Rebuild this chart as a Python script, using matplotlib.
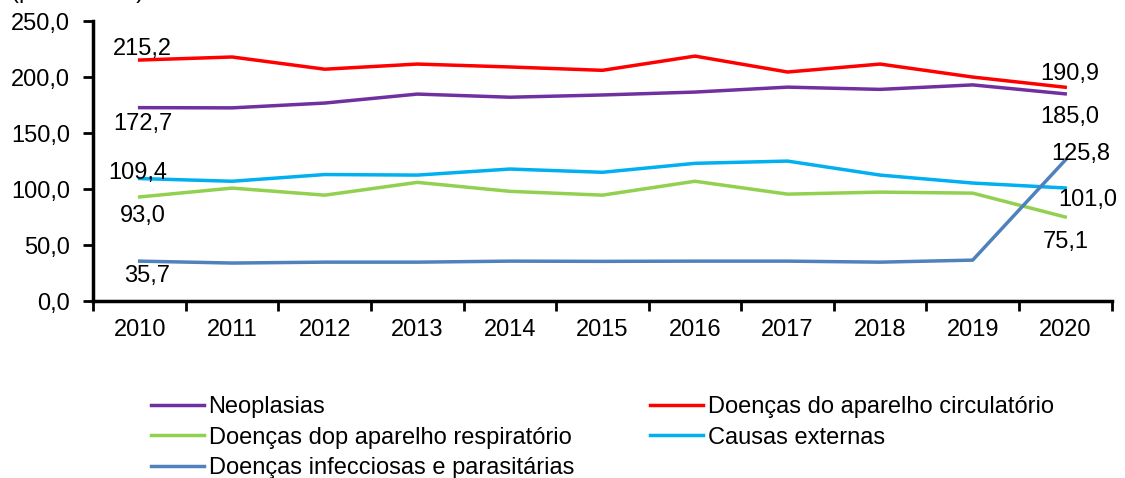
import matplotlib.pyplot as plt
from matplotlib.ticker import FixedLocator, FuncFormatter

plt.rcParams['font.family'] = ['Liberation Sans', 'DejaVu Sans']

anos = [2010, 2011, 2012, 2013, 2014, 2015, 2016, 2017, 2018, 2019, 2020]

neoplasias = [172.7, 172.5, 176.8, 184.8, 182.0, 184.0, 186.6, 191.0, 189.0, 193.0, 185.0]
circulatorio = [215.2, 217.9, 207.0, 211.6, 209.0, 206.0, 218.7, 204.5, 211.6, 200.0, 190.9]
respiratorio = [93.0, 100.9, 94.6, 106.0, 98.0, 94.6, 107.0, 95.5, 97.3, 96.4, 75.1]
externas = [109.4, 107.0, 113.0, 112.5, 117.9, 115.0, 123.0, 125.0, 112.5, 105.4, 101.0]
infecciosas = [35.7, 34.0, 34.8, 34.8, 35.7, 35.5, 35.7, 35.7, 34.8, 36.6, 125.8]

series = {
    "neo": ("Neoplasias", neoplasias, "#7030a0"),
    "circ": ("Doenças do aparelho circulatório", circulatorio, "#ff0000"),
    "resp": ("Doenças dop aparelho respiratório", respiratorio, "#92d050"),
    "ext": ("Causas externas", externas, "#00b0f0"),
    "inf": ("Doenças infecciosas e parasitárias", infecciosas, "#4f81bd"),
}


def fmt(v):
    return f"{v:.1f}".replace('.', ',')


fig = plt.figure(figsize=(11.25, 4.78), dpi=100)
ax = fig.add_axes([0.083, 0.370, 0.905, 0.586])

x = list(range(len(anos)))
lines = {}
for key, (nome, vals, cor) in series.items():
    ln, = ax.plot(x, vals, color=cor, linewidth=2.5, label=nome)
    lines[key] = ln

ax.set_xlim(-0.5, len(anos) - 0.5)
ax.set_ylim(0, 250)
ax.set_yticks([0, 50, 100, 150, 200, 250])
ax.yaxis.set_major_formatter(FuncFormatter(lambda v, p: fmt(v)))
ax.set_xticks(x)
ax.set_xticklabels([str(a) for a in anos])
ax.xaxis.set_minor_locator(FixedLocator([i - 0.5 for i in range(len(anos) + 1)]))
ax.tick_params(axis='x', which='major', length=0, pad=13, labelsize=17)
ax.tick_params(axis='x', which='minor', length=7, width=2, direction='out')
ax.tick_params(axis='y', length=7, width=2, direction='out', labelsize=17, pad=10)

for s in ['top', 'right']:
    ax.spines[s].set_visible(False)
for s in ['left', 'bottom']:
    ax.spines[s].set_linewidth(2.5)

fs = 17
# (serie, indice, dx, dy) em pixels, rótulo pela linha de base
rotulos = [
    ("circ", 0, 3, 5), ("neo", 0, 3, -22), ("ext", 0, -2, 0),
    ("resp", 0, 3, -25), ("inf", 0, 7, -21),
    ("circ", -1, 5, 7), ("neo", -1, 5, -29), ("inf", -1, 16, 0),
    ("ext", -1, 23, -18), ("resp", -1, 1, -31),
]
for key, i, dx, dy in rotulos:
    vals = series[key][1]
    ax.annotate(fmt(vals[i]), (x[i], vals[i]), xytext=(dx, dy),
                textcoords='offset pixels', ha='center', va='baseline', fontsize=fs)

# título cortado no topo, como no original
fig.text(0.010, 1.004, "(por 100 mil)", fontsize=17, va='baseline', ha='left')

ordem = ["neo", "resp", "inf", "circ", "ext"]
fig.legend(handles=[lines[k] for k in ordem], loc='upper left',
           bbox_to_anchor=(0.134, 0.172), ncol=2,
           frameon=False, fontsize=17, handlelength=2.25, handletextpad=0.2,
           columnspacing=3.23, labelspacing=0.37, borderaxespad=0, borderpad=0)

fig.savefig("out.png", dpi=100)
